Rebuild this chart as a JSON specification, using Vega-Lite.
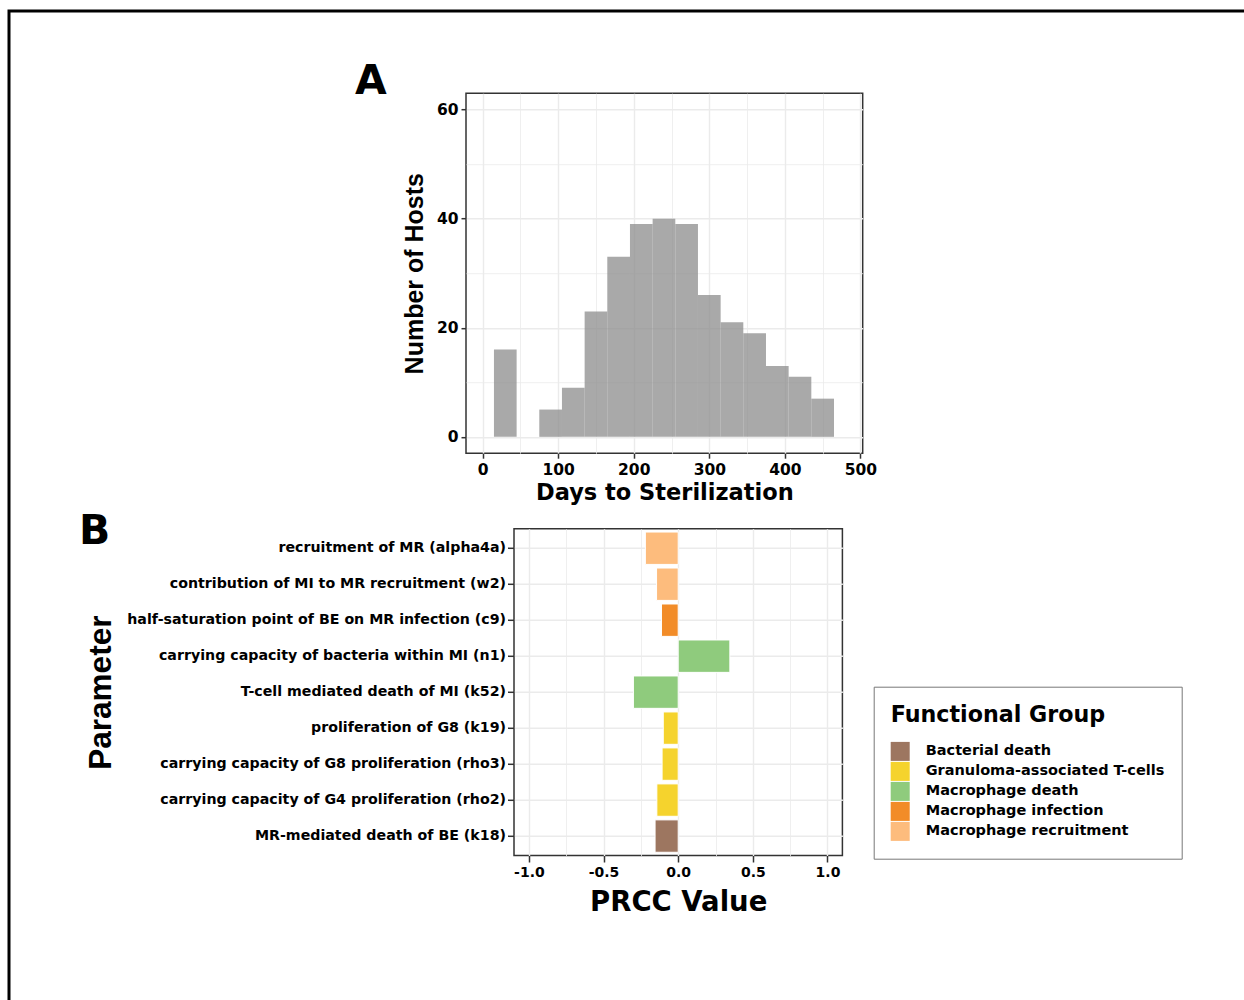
{
  "$schema": "https://vega.github.io/schema/vega-lite/v6.json",
  "padding": {"left": 7, "top": 9, "right": 0, "bottom": 0},
  "background": "white",
  "config": {
    "view": {"stroke": null},
    "font": "DejaVu Sans",
    "axis": {
      "labelFont": "DejaVu Sans", "labelFontWeight": "bold", "labelColor": "black",
      "titleFont": "DejaVu Sans", "titleFontWeight": "bold", "titleColor": "black",
      "domain": false, "tickColor": "#333333", "tickWidth": 1.5, "tickSize": 5,
      "labelPadding": 3, "gridColor": "#ebebeb", "labelFlush": false, "labelOverlap": false
    },
    "title": {"font": "DejaVu Sans", "fontWeight": "bold", "color": "black"},
    "legend": {
      "titleFont": "DejaVu Sans", "titleFontSize": 22.2, "titleFontWeight": "bold", "titleColor": "black",
      "labelFont": "DejaVu Sans", "labelFontSize": 14.5, "labelFontWeight": "bold", "labelColor": "black",
      "symbolType": "square", "symbolSize": 361, "symbolStrokeWidth": 0, "symbolOpacity": 1,
      "padding": 17, "strokeColor": "#777777", "fillColor": "white", "rowPadding": 1,
      "titlePadding": 16, "labelOffset": 16, "titleLimit": 0, "labelLimit": 0
    }
  },
  "bounds": "flush",
  "align": "none",
  "spacing": -929.8,
  "vconcat": [
    {
      "width": 1262, "height": 1012,
      "data": {"values": []},
      "mark": "point",
      "view": {"stroke": "black", "strokeWidth": 3}
    },
    {
      "bounds": "flush",
      "align": "none",
      "spacing": 435.6,
      "vconcat": [
        {
          "bounds": "flush",
          "spacing": 0,
          "hconcat": [
            {"width": 456.5, "height": 1, "data": {"values": []}, "mark": "point"},
            {
              "width": 396.7, "height": 360,
              "view": {"stroke": "#333333", "strokeWidth": 1.5},
              "title": {"text": "A", "anchor": "start", "frame": "group", "orient": "top", "offset": 1, "dx": -111, "dy": 42.3, "baseline": "alphabetic", "fontSize": 41},
              "data": {"values": [
                {"start": 15, "end": 45, "count": 16},
                {"start": 75, "end": 105, "count": 5},
                {"start": 105, "end": 135, "count": 9},
                {"start": 135, "end": 165, "count": 23},
                {"start": 165, "end": 195, "count": 33},
                {"start": 195, "end": 225, "count": 39},
                {"start": 225, "end": 255, "count": 40},
                {"start": 255, "end": 285, "count": 39},
                {"start": 285, "end": 315, "count": 26},
                {"start": 315, "end": 345, "count": 21},
                {"start": 345, "end": 375, "count": 19},
                {"start": 375, "end": 405, "count": 13},
                {"start": 405, "end": 435, "count": 11},
                {"start": 435, "end": 465, "count": 7}
              ]},
              "mark": {"type": "bar", "color": "#8c8c8c", "opacity": 0.75},
              "encoding": {
                "x": {
                  "field": "start", "type": "quantitative",
                  "scale": {"domain": [-22, 503], "nice": false, "zero": false},
                  "axis": {
                    "values": [0, 50, 100, 150, 200, 250, 300, 350, 400, 450, 500],
                    "title": "Days to Sterilization", "titleFontSize": 22.5, "titlePadding": 4,
                    "labelFontSize": 15.5, "labelPadding": 4,
                    "labelExpr": "datum.value % 100 === 0 ? datum.label : ''",
                    "tickOpacity": {"condition": {"test": "datum.value % 100 === 0", "value": 1}, "value": 0},
                    "gridWidth": {"condition": {"test": "datum.value % 100 === 0", "value": 1.4}, "value": 0.8}
                  }
                },
                "x2": {"field": "end"},
                "y": {
                  "field": "count", "type": "quantitative", "stack": null,
                  "scale": {"domain": [-3, 63], "nice": false},
                  "axis": {
                    "values": [0, 10, 20, 30, 40, 50, 60],
                    "title": "Number of Hosts", "titleFont": "Liberation Sans", "titleFontSize": 25,
                    "titleX": -44, "titleBaseline": "alphabetic",
                    "labelFontSize": 15.5, "labelPadding": 3,
                    "labelExpr": "datum.value % 20 === 0 ? datum.label : ''",
                    "tickOpacity": {"condition": {"test": "datum.value % 20 === 0", "value": 1}, "value": 0},
                    "gridWidth": {"condition": {"test": "datum.value % 20 === 0", "value": 1.4}, "value": 0.8}
                  }
                },
                "y2": {"datum": 0}
              }
            }
          ]
        },
        {
          "bounds": "flush",
          "spacing": 0,
          "hconcat": [
            {"width": 504.8, "height": 1, "data": {"values": []}, "mark": "point"},
            {
              "width": 328.4, "height": 326.7,
              "view": {"stroke": "#333333", "strokeWidth": 1.5},
              "title": {"text": "B", "anchor": "start", "frame": "group", "orient": "top", "offset": 0, "dy": 55.7, "dx": -435, "baseline": "alphabetic", "fontSize": 41},
              "data": {"values": [
                {"param": "recruitment of MR (alpha4a)", "prcc": -0.22, "group": "Macrophage recruitment"},
                {"param": "contribution of MI to MR recruitment (w2)", "prcc": -0.145, "group": "Macrophage recruitment"},
                {"param": "half-saturation point of BE on MR infection (c9)", "prcc": -0.112, "group": "Macrophage infection"},
                {"param": "carrying capacity of bacteria within MI (n1)", "prcc": 0.346, "group": "Macrophage death"},
                {"param": "T-cell mediated death of MI (k52)", "prcc": -0.30, "group": "Macrophage death"},
                {"param": "proliferation of G8 (k19)", "prcc": -0.10, "group": "Granuloma-associated T-cells"},
                {"param": "carrying capacity of G8 proliferation (rho3)", "prcc": -0.108, "group": "Granuloma-associated T-cells"},
                {"param": "carrying capacity of G4 proliferation (rho2)", "prcc": -0.143, "group": "Granuloma-associated T-cells"},
                {"param": "MR-mediated death of BE (k18)", "prcc": -0.155, "group": "Bacterial death"}
              ]},
              "mark": {"type": "bar", "stroke": "white", "strokeWidth": 1},
              "encoding": {
                "y": {
                  "field": "param", "type": "nominal",
                  "sort": [
                    "recruitment of MR (alpha4a)",
                    "contribution of MI to MR recruitment (w2)",
                    "half-saturation point of BE on MR infection (c9)",
                    "carrying capacity of bacteria within MI (n1)",
                    "T-cell mediated death of MI (k52)",
                    "proliferation of G8 (k19)",
                    "carrying capacity of G8 proliferation (rho3)",
                    "carrying capacity of G4 proliferation (rho2)",
                    "MR-mediated death of BE (k18)"
                  ],
                  "scale": {"paddingInner": 0.1, "paddingOuter": 0.09},
                  "axis": {
                    "title": "Parameter", "titleFont": "Liberation Sans", "titleFontSize": 31.5,
                    "titleX": -403.8, "titleBaseline": "alphabetic",
                    "labelFontSize": 14.2, "labelLimit": 0, "labelPadding": 2, "tickSize": 6.5,
                    "grid": true, "gridWidth": 1.4, "bandPosition": 0.5
                  }
                },
                "x": {
                  "field": "prcc", "type": "quantitative", "stack": null,
                  "scale": {"domain": [-1.1, 1.1], "nice": false},
                  "axis": {
                    "values": [-1, -0.75, -0.5, -0.25, 0, 0.25, 0.5, 0.75, 1],
                    "title": "PRCC Value", "titleFontSize": 27.5, "titlePadding": 8.5,
                    "labelFontSize": 14, "labelPadding": 3.5, "tickSize": 6.5,
                    "labelExpr": "abs(datum.value * 2 - round(datum.value * 2)) < 0.001 ? replace(format(datum.value, '.1f'), '\u2212', '-') : ''",
                    "tickOpacity": {"condition": {"test": "abs(datum.value * 2 - round(datum.value * 2)) < 0.001", "value": 1}, "value": 0},
                    "gridWidth": {"condition": {"test": "abs(datum.value * 2 - round(datum.value * 2)) < 0.001", "value": 1.4}, "value": 0.8}
                  }
                },
                "color": {
                  "field": "group", "type": "nominal",
                  "scale": {
                    "domain": ["Bacterial death", "Granuloma-associated T-cells", "Macrophage death", "Macrophage infection", "Macrophage recruitment"],
                    "range": ["#9d7660", "#f5d32d", "#8fcb7d", "#f28c28", "#fdbc7d"]
                  },
                  "legend": {"title": "Functional Group", "orient": "none", "legendX": 864.7, "legendY": 675.7}
                }
              }
            }
          ]
        }
      ]
    }
  ]
}
